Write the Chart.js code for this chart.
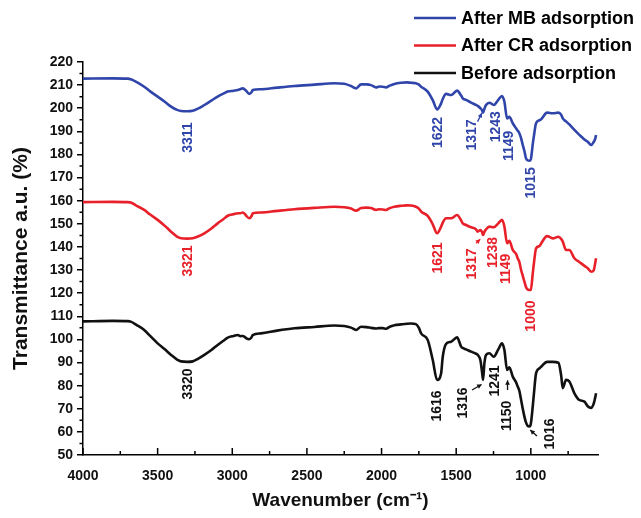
<!DOCTYPE html>
<html>
<head>
<meta charset="utf-8">
<script src="https://cdn.jsdelivr.net/npm/chart.js@4.4.0/dist/chart.umd.min.js"></script>
<style>
  html, body { margin: 0; padding: 0; background: #fff; }
</style>
</head>
<body>
<canvas id="ftirChart" width="641" height="518"></canvas>
<script>
// wavenumber grid (cm-1), shared by the three spectra
var wavenumbers = [4000,3800,3700,3680,3640,3590,3550,3500,3450,3410,3370,3343,3300,3265,3230,3187,3140,3098,3060,3030,
  2990,2963,2945,2930,2915,2908,2886,2870,2863,2807,2700,2584,2450,2316,2250,2204,2171,2137,2100,2070,
  2037,2015,1992,1970,1945,1914,1869,1830,1802,1770,1750,1735,1691,1657,1628,1601,1590,1568,1534,1494,
  1467,1456,1434,1400,1367,1356,1338,1327,1320,1311,1300,1278,1248,1218,1193,1177,1159,1144,1121,1099,
  1088,1077,1065,1054,1043,1032,1021,1010,1000,987,980,965,942,931,891,853,815,797,786,764,
  742,708,675,641,619,596,578,570,563];

var afterMB = [212.8,212.9,212.8,212.5,211.3,209.3,207.3,205.0,202.7,200.7,199.3,198.8,198.7,198.9,199.8,201.4,203.3,205.0,206.3,207.2,
  207.6,207.9,208.3,208.6,208.0,207.6,206.2,207.0,207.9,208.2,208.9,209.6,210.2,210.8,210.6,209.6,208.6,210.3,210.3,210.0,
  209.0,209.4,209.3,209.0,209.8,210.5,211.0,211.2,211.0,210.8,210.2,209.3,207.2,203.5,199.5,202.1,204.0,206.2,205.7,207.6,
  205.5,204.3,203.6,202.4,201.4,201.0,200.0,199.2,198.1,199.8,201.4,202.4,201.4,203.6,205.3,202.8,195.6,196.3,193.5,191.3,
  190.3,189.2,187.0,184.1,181.5,178.3,177.5,177.3,177.9,184.5,187.7,193.5,194.8,195.2,198.1,197.8,198.1,197.2,195.6,194.3,
  193.0,190.6,188.5,186.5,185.5,184.1,185.5,186.5,188.4];

var afterCR = [159.4,159.5,159.4,159.2,157.8,156.0,154.0,151.7,149.0,146.6,144.5,143.8,143.6,143.8,144.5,145.9,148.0,150.2,152.0,153.5,
  154.2,154.6,154.6,154.9,154.2,153.6,152.4,153.5,154.6,154.9,155.6,156.3,156.9,157.4,157.2,156.6,155.7,156.8,157.0,156.8,
  156.0,156.3,156.2,156.0,156.8,157.4,157.8,158.0,157.9,157.4,156.6,155.3,153.4,149.8,145.9,148.8,150.5,152.4,152.4,153.8,
  151.5,150.2,149.5,148.5,147.6,146.6,147.3,146.5,145.2,146.5,147.6,148.8,148.5,150.2,151.7,148.8,141.6,142.7,138.7,137.0,
  135.1,133.5,130.0,127.5,125.0,122.6,121.6,121.4,121.4,128.6,132.5,139.4,140.4,141.5,144.7,143.7,144.4,143.5,142.3,138.7,
  138.7,135.1,133.5,131.8,130.8,129.3,130.0,132.5,135.1];

var beforeAds = [107.8,108.0,107.9,107.7,106.2,104.1,101.5,98.3,95.6,93.3,91.3,90.5,90.3,90.5,91.6,93.3,95.4,97.6,99.4,100.8,
  101.5,101.9,101.4,101.5,101.0,100.6,100.1,101.0,101.9,102.6,103.8,104.8,105.4,106.0,105.8,105.1,104.1,105.5,105.3,105.0,
  104.7,104.9,104.9,104.6,105.5,106.1,106.5,106.8,106.9,106.6,105.0,102.6,99.8,91.1,82.5,85.3,92.5,98.0,99.0,100.9,
  96.9,96.3,95.7,94.7,93.8,93.3,91.1,86.0,82.5,89.7,93.3,94.0,92.5,95.7,98.3,95.4,86.8,87.9,83.9,81.5,
  79.6,77.8,73.8,70.0,66.6,64.0,62.6,62.3,63.5,71.1,76.0,85.3,87.5,88.2,90.3,90.3,89.9,84.5,78.9,82.5,
  81.8,76.7,73.8,73.1,71.1,70.4,72.4,74.5,76.7];

var seriesNames = ['After MB adsorption', 'After CR adsorption', 'Before adsorption'];
var seriesColors = ['#3045aa', '#e8202a', '#111111'];

// x tick labels (every 500), minor ticks every 250
var xTickValues = [4000, 3500, 3000, 2500, 2000, 1500, 1000];

// peak labels: text, series index, anchor (wavenumber, transmittance)
var peakLabels = [
  { text: '3311', s: 0, wn: 3295, t: 187.3 },
  { text: '1622', s: 0, wn: 1618, t: 189.5 },
  { text: '1317', s: 0, wn: 1394, t: 188.4 },
  { text: '1243', s: 0, wn: 1232, t: 192.0 },
  { text: '1149', s: 0, wn: 1143, t: 183.7 },
  { text: '1015', s: 0, wn: 997, t: 167.7 },
  { text: '3321', s: 1, wn: 3295, t: 133.9 },
  { text: '1621', s: 1, wn: 1618, t: 135.2 },
  { text: '1317', s: 1, wn: 1394, t: 132.6 },
  { text: '1238', s: 1, wn: 1254, t: 137.6 },
  { text: '1149', s: 1, wn: 1165, t: 130.5 },
  { text: '1000', s: 1, wn: 997, t: 110.1 },
  { text: '3320', s: 2, wn: 3295, t: 80.7 },
  { text: '1616', s: 2, wn: 1629, t: 71.2 },
  { text: '1316', s: 2, wn: 1451, t: 72.5 },
  { text: '1241', s: 2, wn: 1239, t: 82.0 },
  { text: '1150', s: 2, wn: 1156, t: 66.9 },
  { text: '1016', s: 2, wn: 870, t: 59.1 }
];

var peakArrows = [
  { s: 0, from: [1357, 194.2], to: [1328, 197.9] },
  { s: 1, from: [1367, 141.6], to: [1339, 143.3] },
  { s: 2, from: [1394, 78.1], to: [1330, 80.5] },
  { s: 2, from: [1156, 78.1], to: [1156, 82.3] },
  { s: 2, from: [959, 58.2], to: [1004, 60.8] }
];

var FONT = '"Liberation Sans", Arial, sans-serif';

function toPoints(values) {
  return wavenumbers.map(function(w, i) { return { x: w, y: values[i] }; });
}

function drawArrow(ctx, x1, y1, x2, y2, color) {
  var a = Math.atan2(y2 - y1, x2 - x1), h = 5;
  ctx.strokeStyle = color;
  ctx.fillStyle = color;
  ctx.lineWidth = 1.3;
  ctx.beginPath();
  ctx.moveTo(x1, y1);
  ctx.lineTo(x2, y2);
  ctx.stroke();
  ctx.beginPath();
  ctx.moveTo(x2, y2);
  ctx.lineTo(x2 - h * Math.cos(a - 0.5), y2 - h * Math.sin(a - 0.5));
  ctx.lineTo(x2 - h * Math.cos(a + 0.5), y2 - h * Math.sin(a + 0.5));
  ctx.closePath();
  ctx.fill();
}

var overlay = {
  id: 'overlay',
  afterDatasetsDraw: function(chart) {
    var ctx = chart.ctx, xs = chart.scales.x, ys = chart.scales.y;
    ctx.save();

    // inward x ticks, outward minor y ticks
    ctx.strokeStyle = '#000';
    ctx.lineWidth = 1.5;
    ctx.beginPath();
    for (var v = 750; v <= 4000; v += 250) {
      var px = xs.getPixelForValue(v);
      var len = v % 500 === 0 ? 7 : 4;
      ctx.moveTo(px, ys.bottom);
      ctx.lineTo(px, ys.bottom - len);
    }
    for (var t = 55; t < 220; t += 10) {
      var py = ys.getPixelForValue(t);
      ctx.moveTo(xs.left, py);
      ctx.lineTo(xs.left - 3.5, py);
    }
    ctx.stroke();

    // rotated peak labels
    ctx.font = 'bold 14px ' + FONT;
    ctx.textAlign = 'center';
    ctx.textBaseline = 'middle';
    peakLabels.forEach(function(p) {
      ctx.save();
      ctx.translate(xs.getPixelForValue(p.wn), ys.getPixelForValue(p.t));
      ctx.rotate(-Math.PI / 2);
      ctx.fillStyle = seriesColors[p.s];
      ctx.fillText(p.text, 0, 0);
      ctx.restore();
    });

    peakArrows.forEach(function(a) {
      drawArrow(ctx,
        xs.getPixelForValue(a.from[0]), ys.getPixelForValue(a.from[1]),
        xs.getPixelForValue(a.to[0]), ys.getPixelForValue(a.to[1]),
        seriesColors[a.s]);
    });

    // legend, stacked top right
    ctx.font = 'bold 18px ' + FONT;
    ctx.textAlign = 'left';
    chart.data.datasets.forEach(function(ds, i) {
      var y = 18 + i * 27.5;
      ctx.strokeStyle = ds.borderColor;
      ctx.lineWidth = 2.6;
      ctx.beginPath();
      ctx.moveTo(414, y);
      ctx.lineTo(456, y);
      ctx.stroke();
      ctx.fillStyle = '#000';
      ctx.fillText(ds.label, 461, y + 1);
    });

    ctx.restore();
  }
};

var datasets = [afterMB, afterCR, beforeAds].map(function(values, i) {
  return {
    label: seriesNames[i],
    data: toPoints(values),
    borderColor: seriesColors[i],
    borderWidth: 2.6,
    pointRadius: 0,
    fill: false,
    cubicInterpolationMode: 'monotone'
  };
});

var ctx = document.getElementById('ftirChart').getContext('2d');
var ftirChart = new Chart(ctx, {
  type: 'line',
  data: { datasets: datasets },
  plugins: [overlay],
  options: {
    responsive: false,
    animation: false,
    layout: { padding: { top: 62, right: 43, left: 0, bottom: 0 } },
    plugins: { legend: { display: false }, tooltip: { enabled: false } },
    scales: {
      x: {
        type: 'linear',
        reverse: true,
        min: 550,
        max: 4000,
        afterBuildTicks: function(scale) {
          scale.ticks = xTickValues.map(function(v) { return { value: v }; });
        },
        afterFit: function(scale) { scale.height = 63; },
        border: { color: '#000', width: 1.5 },
        grid: { display: true, drawOnChartArea: false, drawTicks: false },
        ticks: {
          autoSkip: false,
          maxRotation: 0,
          padding: 13,
          color: '#111',
          font: { family: FONT, size: 14, weight: 'bold' },
          callback: function(value) { return String(value); }
        },
        title: {
          display: true,
          text: 'Wavenumber (cm\u207B\u00B9)',
          color: '#111',
          padding: { top: 0, bottom: 6 },
          font: { family: FONT, size: 19, weight: 'bold' }
        }
      },
      y: {
        min: 50,
        max: 220,
        afterFit: function(scale) { scale.width = 83; },
        border: { color: '#000', width: 1.5 },
        grid: { drawOnChartArea: false, tickLength: 6, color: '#000', lineWidth: 1.5 },
        ticks: {
          stepSize: 10,
          padding: 4,
          color: '#111',
          font: { family: FONT, size: 14, weight: 'bold' }
        },
        title: {
          display: true,
          text: 'Transmittance a.u. (%)',
          color: '#111',
          padding: { top: 9, bottom: 0 },
          font: { family: FONT, size: 21, weight: 'bold' }
        }
      }
    }
  }
});
</script>
</body>
</html>
